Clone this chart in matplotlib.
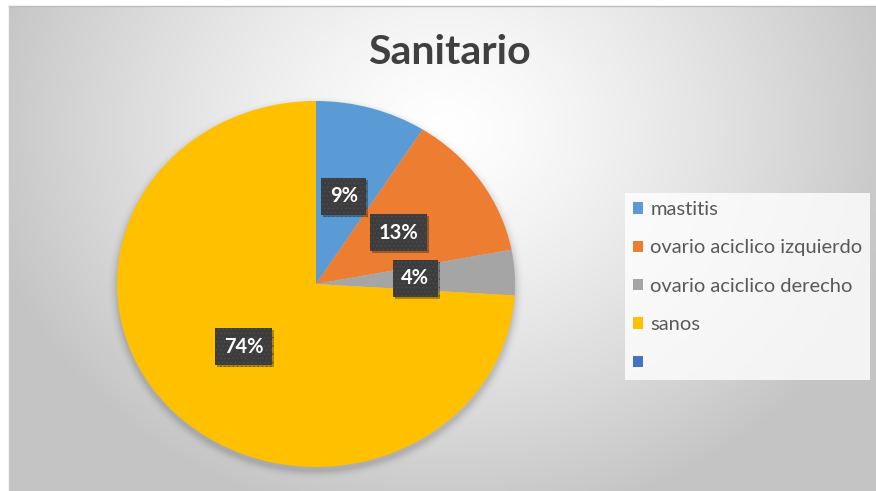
import numpy as np
import matplotlib
matplotlib.use("Agg")
import matplotlib.pyplot as plt
from matplotlib.patches import Patch
import matplotlib.patheffects as pe

# ---- data ----
categories = ["mastitis", "ovario aciclico izquierdo", "ovario aciclico derecho", "sanos", ""]
values = [9, 13, 4, 74, 0]
colors = ["#5B9BD5", "#ED7D31", "#A5A5A5", "#FFC000", "#4472C4"]
chart_title = "Sanitario"

# ---- layout (pixels) ----
W, H, DPI = 876, 491, 100
pie_cx, pie_cy = 316, 284          # ellipse centre
pie_rx, pie_ry = 199, 183          # horizontal / vertical radius
frame_x0, frame_y0 = 9, 6          # top-left corner of the chart area

plt.rcParams["font.family"] = ["Lato", "DejaVu Sans"]
plt.rcParams["hatch.linewidth"] = 0.5

fig = plt.figure(figsize=(W / DPI, H / DPI), dpi=DPI)
fig.patch.set_facecolor("white")

# ---- chart-area background: soft radial grey gradient + pie shadow ----
yy, xx = np.mgrid[0:H, 0:W] + 0.5
d = np.sqrt(((xx - 445) / 470.0) ** 2 + ((yy - 130) / 400.0) ** 2)
shade = 1.0 - 0.23 * np.clip(d, 0, 1.0) ** 1.3

r = np.sqrt(((xx - pie_cx) / pie_rx) ** 2 + ((yy - (pie_cy + 4)) / pie_ry) ** 2)
dist = (r - 1.0) * 190.0
halo = np.clip(1.0 - dist / 10.0, 0, 1) ** 2
shade = shade * (1.0 - 0.16 * halo)

img = np.dstack([shade] * 3)
img[:frame_y0, :] = 1.0
img[:, :frame_x0] = 1.0

ax_bg = fig.add_axes([0, 0, 1, 1], zorder=0)
ax_bg.imshow(img, extent=(0, W, H, 0), aspect="auto", interpolation="bilinear")
ax_bg.plot([frame_x0, W], [frame_y0, frame_y0], color="#bdbdbd", lw=1.0)
ax_bg.plot([frame_x0, frame_x0], [frame_y0, H], color="#c8c8c8", lw=1.0)
ax_bg.set_xlim(0, W)
ax_bg.set_ylim(H, 0)
ax_bg.axis("off")

# ---- pie ----
ax = fig.add_axes([(pie_cx - pie_rx) / W, (H - pie_cy - pie_ry) / H,
                   2 * pie_rx / W, 2 * pie_ry / H], zorder=1)
shown = [i for i, v in enumerate(values) if v > 0]
pie_vals = [values[i] for i in shown]
pie_cols = [colors[i] for i in shown]
wedges, _ = ax.pie(pie_vals, colors=pie_cols, startangle=90, counterclock=False,
                   wedgeprops=dict(linewidth=0))
ax.set_aspect("auto")
ax.set_xlim(-1, 1)
ax.set_ylim(-1, 1)
ax.axis("off")

total = float(sum(pie_vals))
for w, v in zip(wedges, pie_vals):
    mid = np.deg2rad((w.theta1 + w.theta2) / 2.0)
    t = ax.text(0.5 * np.cos(mid), 0.5 * np.sin(mid), f"{v / total * 100:.0f}%",
                ha="center", va="center", color="white", fontsize=14.5,
                fontweight="bold",
                bbox=dict(boxstyle="square,pad=0.42", facecolor="#3d3d3d",
                          edgecolor="#4d4d4d", linewidth=0, hatch="...."))
    t.get_bbox_patch().set_path_effects(
        [pe.withSimplePatchShadow(offset=(1.5, -1.5), shadow_rgbFace="black", alpha=0.3),
         pe.Normal()])

# ---- title ----
fig.text(449 / W, 1 - 63.5 / H, chart_title, ha="center", va="baseline",
         fontsize=29.5, fontweight="bold", color="#404040")

# ---- legend ----
handles = [Patch(facecolor=c, edgecolor="none") for c in colors]
leg = fig.legend(handles, categories, loc="upper left",
                 bbox_to_anchor=(625 / W, 1 - 193 / H), borderaxespad=0,
                 frameon=True, fontsize=14.5, labelcolor="#595959",
                 handlelength=0.5, handleheight=0.5, handletextpad=0.35,
                 labelspacing=1.06, borderpad=0.4, fancybox=False)
leg.get_frame().set_facecolor((1, 1, 1, 0.1))
leg.get_frame().set_edgecolor("none")

fig.savefig("out.png", dpi=DPI)
